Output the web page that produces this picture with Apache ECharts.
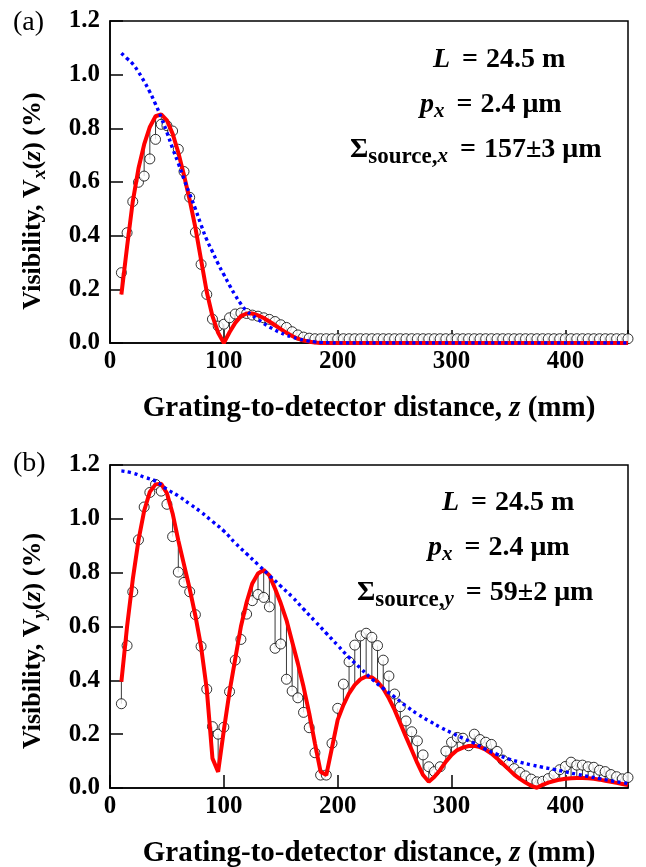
<!DOCTYPE html>
<html>
<head>
<meta charset="utf-8">
<script src="https://cdn.jsdelivr.net/npm/echarts@6/dist/echarts.min.js"></script>
<style>
  html, body { margin: 0; padding: 0; background: #ffffff; }
  #chart { width: 646px; height: 867px; }
</style>
</head>
<body>
<div id="chart"></div>
<script>
// Grating-to-detector distances of the measurements (mm)
const zGrid = [10, 15, 20, 25, 30, 35, 40, 45, 50, 55, 60, 65, 70, 75, 80, 85, 90, 95, 100, 105,
  110, 115, 120, 125, 130, 135, 140, 145, 150, 155, 160, 165, 170, 175, 180, 185, 190, 195, 200, 205,
  210, 215, 220, 225, 230, 235, 240, 245, 250, 255, 260, 265, 270, 275, 280, 285, 290, 295, 300, 305,
  310, 315, 320, 325, 330, 335, 340, 345, 350, 355, 360, 365, 370, 375, 380, 385, 390, 395, 400, 405,
  410, 415, 420, 425, 430, 435, 440, 445, 450, 455];

// (a) horizontal direction: measured visibility and fitted model
const visX = [0.262, 0.411, 0.527, 0.599, 0.622, 0.686, 0.759, 0.815, 0.810, 0.790,
  0.722, 0.639, 0.543, 0.413, 0.293, 0.181, 0.089, 0.063, 0.070, 0.094,
  0.108, 0.112, 0.110, 0.104, 0.100, 0.094, 0.088, 0.080, 0.068, 0.058,
  0.042, 0.030, 0.022, 0.018, 0.016, 0.016, 0.016, 0.016, 0.016, 0.016,
  0.016, 0.016, 0.016, 0.016, 0.016, 0.016, 0.016, 0.016, 0.016, 0.016,
  0.016, 0.016, 0.016, 0.016, 0.016, 0.016, 0.016, 0.016, 0.016, 0.016,
  0.016, 0.016, 0.016, 0.016, 0.016, 0.016, 0.016, 0.016, 0.016, 0.016,
  0.016, 0.016, 0.016, 0.016, 0.016, 0.016, 0.016, 0.016, 0.016, 0.016,
  0.016, 0.016, 0.016, 0.016, 0.016, 0.016, 0.016, 0.016, 0.016, 0.016];
const fitX = [0.181, 0.359, 0.527, 0.650, 0.740, 0.805, 0.845, 0.852, 0.830, 0.780,
  0.710, 0.625, 0.533, 0.430, 0.310, 0.190, 0.100, 0.038, 0.000, 0.040,
  0.075, 0.100, 0.110, 0.110, 0.103, 0.093, 0.080, 0.066, 0.052, 0.038,
  0.026, 0.016, 0.009, 0.005, 0.002, 0, 0, 0, 0, 0,
  0, 0, 0, 0, 0, 0, 0, 0, 0, 0,
  0, 0, 0, 0, 0, 0, 0, 0, 0, 0,
  0, 0, 0, 0, 0, 0, 0, 0, 0, 0,
  0, 0, 0, 0, 0, 0, 0, 0, 0, 0,
  0, 0, 0, 0, 0, 0, 0, 0, 0, 0];
// Coherence envelope, horizontal
const envXz = [10, 15, 20, 25, 30, 35, 40, 45, 50, 55, 60, 65, 70, 75, 80, 85, 90, 95, 100, 105,
  110, 115, 120, 125, 130, 135, 140, 145, 150, 155, 160, 165, 170, 175, 180, 185, 190, 200, 455];
const envX = [1.080, 1.060, 1.040, 1.010, 0.975, 0.935, 0.890, 0.840, 0.785, 0.725,
  0.670, 0.610, 0.555, 0.500, 0.440, 0.385, 0.340, 0.295, 0.255, 0.215,
  0.178, 0.145, 0.120, 0.103, 0.088, 0.073, 0.060, 0.048, 0.038, 0.029,
  0.022, 0.016, 0.011, 0.007, 0.004, 0.002, 0.001, 0, 0];

// (b) vertical direction: measured visibility and fitted model
const visY = [0.313, 0.529, 0.729, 0.922, 1.044, 1.098, 1.128, 1.103, 1.054, 0.934,
  0.802, 0.764, 0.729, 0.644, 0.526, 0.367, 0.228, 0.200, 0.226, 0.358,
  0.475, 0.552, 0.646, 0.696, 0.719, 0.708, 0.673, 0.519, 0.535, 0.404,
  0.360, 0.335, 0.281, 0.224, 0.131, 0.048, 0.048, 0.166, 0.296, 0.386,
  0.469, 0.531, 0.565, 0.575, 0.560, 0.529, 0.475, 0.416, 0.349, 0.302,
  0.249, 0.209, 0.175, 0.123, 0.079, 0.061, 0.079, 0.137, 0.170, 0.188,
  0.185, 0.157, 0.200, 0.180, 0.170, 0.162, 0.136, 0.104, 0.088, 0.072,
  0.058, 0.045, 0.033, 0.023, 0.025, 0.035, 0.050, 0.068, 0.080, 0.096,
  0.085, 0.085, 0.079, 0.077, 0.066, 0.061, 0.050, 0.042, 0.034, 0.039];
const fitY = [0.395, 0.600, 0.775, 0.920, 1.030, 1.100, 1.128, 1.130, 1.095, 1.020,
  0.920, 0.830, 0.740, 0.640, 0.525, 0.367, 0.110, 0.060, 0.215, 0.358,
  0.480, 0.600, 0.690, 0.760, 0.797, 0.810, 0.790, 0.740, 0.686, 0.624,
  0.543, 0.463, 0.376, 0.277, 0.166, 0.060, 0.048, 0.150, 0.253, 0.308,
  0.352, 0.383, 0.404, 0.414, 0.411, 0.395, 0.370, 0.333, 0.290, 0.240,
  0.190, 0.141, 0.092, 0.048, 0.023, 0.042, 0.067, 0.098, 0.123, 0.141,
  0.150, 0.156, 0.157, 0.152, 0.142, 0.128, 0.110, 0.090, 0.070, 0.050,
  0.034, 0.020, 0.008, 0.001, 0.012, 0.020, 0.026, 0.031, 0.034, 0.036,
  0.037, 0.037, 0.036, 0.034, 0.031, 0.027, 0.023, 0.019, 0.015, 0.011];
// Coherence envelope, vertical
const envYz = [10, 20, 30, 40, 50, 60, 70, 80, 90, 100, 110, 120, 130, 140, 150, 160, 170, 180, 190, 200,
  210, 220, 230, 240, 250, 260, 270, 280, 290, 300, 310, 320, 330, 340, 350, 360, 370, 380, 390, 400,
  410, 420, 430, 440, 450, 455];
const envY = [1.178, 1.170, 1.155, 1.140, 1.110, 1.085, 1.055, 1.025, 0.990, 0.955,
  0.910, 0.870, 0.830, 0.790, 0.750, 0.710, 0.665, 0.620, 0.575, 0.530,
  0.485, 0.445, 0.405, 0.370, 0.338, 0.305, 0.275, 0.250, 0.226, 0.205,
  0.185, 0.166, 0.143, 0.125, 0.108, 0.096, 0.086, 0.077, 0.069, 0.060,
  0.051, 0.043, 0.035, 0.027, 0.020, 0.017];

const xTicks = [0, 100, 200, 300, 400];
const yTicks = [0, 0.2, 0.4, 0.6, 0.8, 1.0, 1.2];

const SERIF = '"Liberation Serif", "Times New Roman", "DejaVu Serif", serif';
const BLACK = '#000000';

const pairs = (xs, ys) => xs.map((x, i) => [x, ys[i]]);

function makeAxes(idx, xName) {
  const x = {
    gridIndex: idx, type: 'value', min: 0, max: 455, interval: 100,
    axisLine: { show: true, onZero: false, lineStyle: { color: BLACK, width: 1.5 } },
    axisTick: { show: true, inside: true, length: 13, lineStyle: { color: BLACK, width: 1.5 } },
    splitLine: { show: false },
    axisLabel: {
      formatter: v => (xTicks.indexOf(v) >= 0 ? String(v) : ''),
      fontFamily: SERIF, fontWeight: 'bold', fontSize: 25, color: BLACK, margin: 6
    },
    name: xName, nameLocation: 'middle', nameGap: 51,
    nameTextStyle: {
      fontFamily: SERIF, fontWeight: 'bold', fontSize: 29, color: BLACK,
      rich: {
        b: { fontFamily: SERIF, fontWeight: 'bold', fontSize: 29, color: BLACK },
        i: { fontFamily: SERIF, fontWeight: 'bold', fontStyle: 'italic', fontSize: 29, color: BLACK }
      }
    }
  };
  const y = {
    gridIndex: idx, type: 'value', min: 0, max: 1.2, interval: 0.2,
    axisLine: { show: true, onZero: false, lineStyle: { color: BLACK, width: 1.5 } },
    axisTick: { show: true, inside: true, length: 13, lineStyle: { color: BLACK, width: 1.5 } },
    splitLine: { show: false },
    axisLabel: {
      formatter: v => (yTicks.some(t => Math.abs(t - v) < 1e-6) ? v.toFixed(1) : ''),
      fontFamily: SERIF, fontWeight: 'bold', fontSize: 25, color: BLACK, margin: 10
    }
  };
  return [x, y];
}

function panelSeries(idx, meas, fit, envZ, env) {
  return [
    {
      // residual stems from each measurement to the model
      type: 'custom', xAxisIndex: idx, yAxisIndex: idx, silent: true, clip: false, z: 2,
      data: zGrid.map((z, i) => [z, meas[i], fit[i]]),
      encode: { x: 0, y: [1, 2] },
      renderItem: (params, api) => {
        const a = api.coord([api.value(0), api.value(1)]);
        const b = api.coord([api.value(0), api.value(2)]);
        return {
          type: 'line',
          shape: { x1: a[0], y1: a[1], x2: b[0], y2: b[1] },
          style: { stroke: '#3a3a3a', lineWidth: 1 }
        };
      }
    },
    {
      type: 'scatter', xAxisIndex: idx, yAxisIndex: idx, clip: false, z: 3,
      data: pairs(zGrid, meas), symbol: 'circle', symbolSize: 10,
      itemStyle: { color: '#ffffff', borderColor: BLACK, borderWidth: 1 }
    },
    {
      type: 'line', xAxisIndex: idx, yAxisIndex: idx, z: 4,
      data: pairs(zGrid, fit), showSymbol: false, smooth: false,
      lineStyle: { color: '#ff0000', width: 4 }
    },
    {
      type: 'line', xAxisIndex: idx, yAxisIndex: idx, z: 5,
      data: pairs(envZ, env), showSymbol: false, smooth: true,
      lineStyle: { color: '#0000ff', width: 3.4, type: [3.2, 3.4], cap: 'butt' }
    }
  ];
}

// text styles for the axis titles and the parameter annotations
const richTitle = {
  n: { fontFamily: SERIF, fontWeight: 'bold', fontSize: 26, lineHeight: 30, verticalAlign: 'middle', fill: BLACK },
  i: { fontFamily: SERIF, fontWeight: 'bold', fontStyle: 'italic', fontSize: 26, lineHeight: 30, verticalAlign: 'middle', fill: BLACK },
  s: { fontFamily: SERIF, fontWeight: 'bold', fontStyle: 'italic', fontSize: 19, lineHeight: 20, padding: [14, 0, 0, 0], verticalAlign: 'middle', fill: BLACK }
};
const richNote = {
  n: { fontFamily: SERIF, fontWeight: 'bold', fontSize: 28, lineHeight: 32, verticalAlign: 'middle', fill: BLACK },
  i: { fontFamily: SERIF, fontWeight: 'bold', fontStyle: 'italic', fontSize: 28, lineHeight: 32, verticalAlign: 'middle', fill: BLACK },
  e: { fontFamily: SERIF, fontWeight: 'bold', fontSize: 28, lineHeight: 32, padding: [0, 8, 0, 12], verticalAlign: 'middle', fill: BLACK },
  s: { fontFamily: SERIF, fontWeight: 'bold', fontStyle: 'italic', fontSize: 21, lineHeight: 22, padding: [14, 0, 0, 0], verticalAlign: 'middle', fill: BLACK },
  u: { fontFamily: SERIF, fontWeight: 'bold', fontSize: 23, lineHeight: 22, padding: [14, 0, 0, 0], verticalAlign: 'middle', fill: BLACK }
};

function label(x, y, text, rich, rotation, align) {
  return {
    type: 'text', x: x, y: y, rotation: rotation || 0, silent: true, z: 10,
    style: { text: text, rich: rich, align: align || 'left', verticalAlign: 'middle', fill: BLACK,
      font: 'bold 26px ' + SERIF }
  };
}

const X_TITLE = '{b|Grating-to-detector distance, }{i|z}{b| (mm)}';
const [xa, ya] = makeAxes(0, X_TITLE);
const [xb, yb] = makeAxes(1, X_TITLE);

const chart = echarts.init(document.getElementById('chart'), null, { renderer: 'canvas' });
chart.setOption({
  animation: false,
  backgroundColor: '#ffffff',
  grid: [
    { left: 110, top: 21, width: 518, height: 322, show: true, borderColor: BLACK, borderWidth: 1.5,
      backgroundColor: 'transparent', outerBoundsMode: 'none' },
    { left: 110, top: 465, width: 518, height: 323, show: true, borderColor: BLACK, borderWidth: 1.5,
      backgroundColor: 'transparent', outerBoundsMode: 'none' }
  ],
  xAxis: [xa, xb],
  yAxis: [ya, yb],
  series: [
    ...panelSeries(0, visX, fitX, envXz, envX),
    ...panelSeries(1, visY, fitY, envYz, envY)
  ],
  graphic: [
    { type: 'text', x: 13, y: 23, silent: true,
      style: { text: '(a)', font: 'normal 28px ' + SERIF, fill: BLACK, verticalAlign: 'middle' } },
    { type: 'text', x: 13, y: 464, silent: true,
      style: { text: '(b)', font: 'normal 28px ' + SERIF, fill: BLACK, verticalAlign: 'middle' } },
    label(33, 201, '{n|Visibility, V}{s|x}{n|(}{i|z}{n|) (%)}', richTitle, Math.PI / 2, 'center'),
    label(33, 641, '{n|Visibility, V}{s|y}{n|(}{i|z}{n|) (%)}', richTitle, Math.PI / 2, 'center'),
    label(433, 60, '{i|L}{e|=}{n|24.5 m}', richNote),
    label(420, 105, '{i|p}{s|x}{e|=}{n|2.4 μm}', richNote),
    label(350, 150, '{n|Σ}{u|source,}{s|x}{e|=}{n|157±3 μm}', richNote),
    label(442, 503, '{i|L}{e|=}{n|24.5 m}', richNote),
    label(428, 548, '{i|p}{s|y}{e|=}{n|2.4 μm}'.replace('{s|y}', '{s|x}'), richNote),
    label(357, 593, '{n|Σ}{u|source,}{s|y}{e|=}{n|59±2 μm}', richNote)
  ]
});
</script>
</body>
</html>
